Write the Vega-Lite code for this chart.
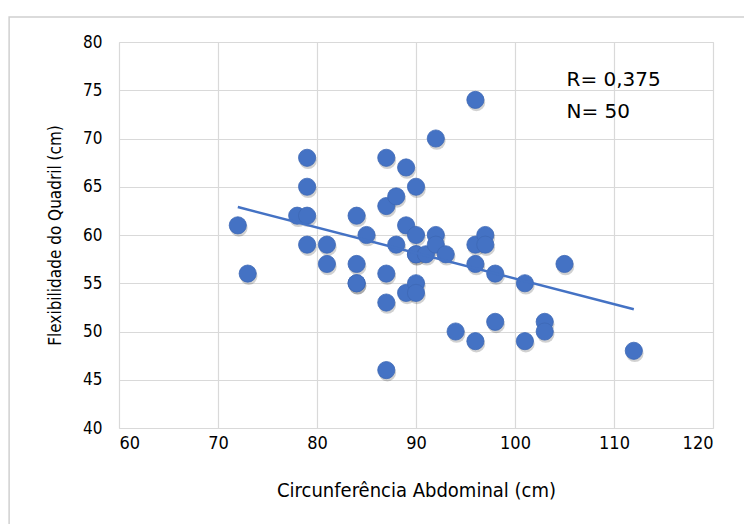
{
  "$schema": "https://vega.github.io/schema/vega-lite/v6.json",
  "width": 594,
  "height": 386,
  "autosize": "none",
  "padding": {"left": 119, "top": 42, "right": 31, "bottom": 96},
  "background": "white",
  "config": {
    "view": {"stroke": "#d9d9d9", "strokeWidth": 1},
    "axis": {
      "gridColor": "#d9d9d9",
      "gridWidth": 1.2,
      "domain": false,
      "ticks": false,
      "labelFont": "DejaVu Sans Condensed, Roboto Condensed, Roboto",
      "labelFontSize": 17,
      "labelColor": "#000000",
      "titleFont": "DejaVu Sans Condensed, Roboto Condensed, Roboto",
      "titleFontSize": 17,
      "titleFontWeight": "normal",
      "titleColor": "#000000"
    }
  },
  "datasets": {
    "pts": [
      {"circ": 72, "flex": 61}, {"circ": 73, "flex": 56}, {"circ": 78, "flex": 62},
      {"circ": 79, "flex": 62}, {"circ": 79, "flex": 68}, {"circ": 79, "flex": 65},
      {"circ": 79, "flex": 59}, {"circ": 81, "flex": 59}, {"circ": 81, "flex": 57},
      {"circ": 84, "flex": 62}, {"circ": 84, "flex": 57}, {"circ": 84, "flex": 55},
      {"circ": 84, "flex": 55}, {"circ": 85, "flex": 60}, {"circ": 87, "flex": 68},
      {"circ": 87, "flex": 63}, {"circ": 87, "flex": 56}, {"circ": 87, "flex": 53},
      {"circ": 87, "flex": 46}, {"circ": 88, "flex": 64}, {"circ": 88, "flex": 59},
      {"circ": 89, "flex": 67}, {"circ": 89, "flex": 61}, {"circ": 89, "flex": 54},
      {"circ": 90, "flex": 65}, {"circ": 90, "flex": 60}, {"circ": 90, "flex": 58},
      {"circ": 90, "flex": 58}, {"circ": 90, "flex": 55}, {"circ": 90, "flex": 54},
      {"circ": 91, "flex": 58}, {"circ": 92, "flex": 70}, {"circ": 92, "flex": 60},
      {"circ": 92, "flex": 59}, {"circ": 93, "flex": 58}, {"circ": 94, "flex": 50},
      {"circ": 96, "flex": 74}, {"circ": 96, "flex": 59}, {"circ": 96, "flex": 57},
      {"circ": 96, "flex": 49}, {"circ": 97, "flex": 60}, {"circ": 97, "flex": 59},
      {"circ": 98, "flex": 56}, {"circ": 98, "flex": 51}, {"circ": 101, "flex": 55},
      {"circ": 101, "flex": 49}, {"circ": 103, "flex": 51}, {"circ": 103, "flex": 50},
      {"circ": 105, "flex": 57}, {"circ": 112, "flex": 48}
    ],
    "trend": [
      {"circ": 72, "flex": 62.9},
      {"circ": 112, "flex": 52.3}
    ],
    "notes": [
      {"circ": 105.2, "flex": 76.1, "label": "R= 0,375"},
      {"circ": 105.2, "flex": 72.7, "label": "N= 50"}
    ],
    "frame": [
      {"x1": 48.9, "x2": 126, "y1": 82.6, "y2": 25}
    ]
  },
  "layer": [
    {
      "data": {"name": "frame"},
      "mark": {"type": "rect", "fill": null, "stroke": "#d0d0d0", "strokeWidth": 1.5, "clip": false},
      "encoding": {
        "x": {"field": "x1", "type": "quantitative", "scale": {"domain": [60, 120]}},
        "x2": {"field": "x2"},
        "y": {"field": "y1", "type": "quantitative", "scale": {"domain": [40, 80]}},
        "y2": {"field": "y2"}
      }
    },
    {
      "data": {"name": "pts"},
      "mark": {"type": "circle", "size": 310, "color": "#000000", "opacity": 0.18, "xOffset": 1, "yOffset": 2.5},
      "encoding": {
        "x": {"field": "circ", "type": "quantitative"},
        "y": {"field": "flex", "type": "quantitative"}
      }
    },
    {
      "data": {"name": "pts"},
      "mark": {"type": "circle", "size": 295, "color": "#4472C4", "opacity": 1, "stroke": "#3d68b5", "strokeWidth": 0.8},
      "encoding": {
        "x": {
          "field": "circ", "type": "quantitative",
          "scale": {"domain": [60, 120], "nice": false, "zero": false},
          "axis": {"values": [60, 70, 80, 90, 100, 110, 120], "title": "Circunferência Abdominal (cm)", "labelPadding": 6, "labelFontSize": 18, "titleFontSize": 20, "titlePadding": 28}
        },
        "y": {
          "field": "flex", "type": "quantitative",
          "scale": {"domain": [40, 80], "nice": false, "zero": false},
          "axis": {"values": [40, 45, 50, 55, 60, 65, 70, 75, 80], "title": "Flexibilidade do Quadril (cm)", "labelPadding": 17, "titlePadding": 18}
        }
      }
    },
    {
      "data": {"name": "trend"},
      "mark": {"type": "line", "color": "#4472C4", "strokeWidth": 2.5},
      "encoding": {
        "x": {"field": "circ", "type": "quantitative"},
        "y": {"field": "flex", "type": "quantitative"}
      }
    },
    {
      "data": {"name": "notes"},
      "mark": {"type": "text", "align": "left", "baseline": "middle", "font": "DejaVu Sans", "fontSize": 20, "color": "#000000"},
      "encoding": {
        "x": {"field": "circ", "type": "quantitative"},
        "y": {"field": "flex", "type": "quantitative"},
        "text": {"field": "label"}
      }
    }
  ]
}
